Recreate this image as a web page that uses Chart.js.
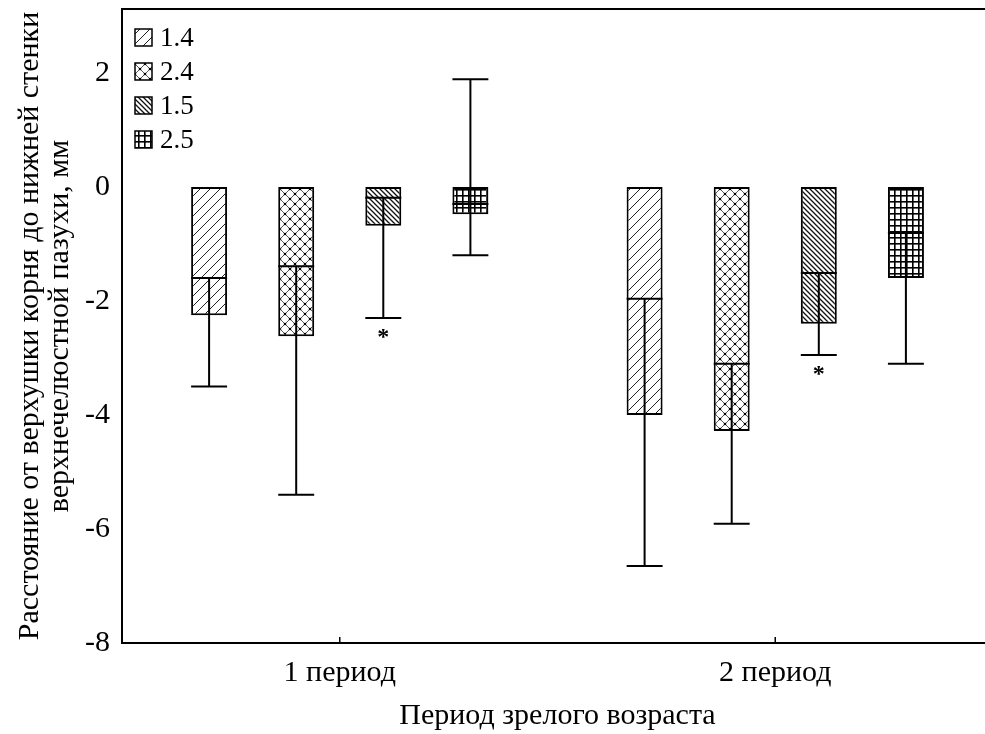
<!DOCTYPE html>
<html>
<head>
<meta charset="utf-8">
<script src="https://cdn.jsdelivr.net/npm/chart.js@4"></script>
<style>
  html, body { margin: 0; padding: 0; background: #fff; overflow: hidden; }
  #wrap { width: 1000px; height: 755px; margin-top: -21px; }
</style>
</head>
<body>
<div id="wrap"><canvas id="c" width="1000" height="755"></canvas></div>
<script>
// Age periods on the x axis
const periods = ['1 период', '2 период'];
// Tooth groups (one box per group inside each period)
const groups = ['1.4', '2.4', '1.5', '2.5'];
// Box top (upper edge) for each group, per period, mm
const boxTop = {
  '1.4': [0, 0],
  '2.4': [0, 0],
  '1.5': [0, 0],
  '2.5': [0, 0]
};
// Box bottom (lower edge) for each group, per period, mm
const boxBottom = {
  '1.4': [-2.25, -4.00],
  '2.4': [-2.62, -4.28],
  '1.5': [-0.68, -2.40],
  '2.5': [-0.48, -1.60]
};
// Median for each group, per period, mm
const medians = {
  '1.4': [-1.60, -1.96],
  '2.4': [-1.39, -3.10],
  '1.5': [-0.19, -1.51],
  '2.5': [-0.30, -0.81]
};
// Whisker minimum, per period, mm
const whiskerMin = {
  '1.4': [-3.50, -6.65],
  '2.4': [-5.40, -5.91],
  '1.5': [-2.30, -2.95],
  '2.5': [-1.20, -3.10]
};
// Whisker maximum, per period, mm (null: no upper whisker above the box)
const whiskerMax = {
  '1.4': [null, null],
  '2.4': [null, null],
  '1.5': [null, null],
  '2.5': [1.89, null]
};
// Significance marks under the whiskers
const marks = {
  '1.4': ['', ''],
  '2.4': ['', ''],
  '1.5': ['*', '*'],
  '2.5': ['', '']
};
// Y axis ticks
const yTicks = [-8, -6, -4, -2, 0, 2];

const FONT = '"Liberation Serif", "Times New Roman", serif';

// Hatch fills
function makePattern(kind) {
  const c = document.createElement('canvas');
  const ctx = c.getContext('2d');
  let s;
  if (kind === 'slash') {
    s = 10; c.width = s; c.height = s;
    ctx.fillStyle = '#fff'; ctx.fillRect(0, 0, s, s);
    ctx.strokeStyle = '#222'; ctx.lineWidth = 1;
    ctx.beginPath();
    ctx.moveTo(-1, s + 1); ctx.lineTo(s + 1, -1);
    ctx.moveTo(-1, 1); ctx.lineTo(1, -1);
    ctx.moveTo(s - 1, s + 1); ctx.lineTo(s + 1, s - 1);
    ctx.stroke();
  } else if (kind === 'cross') {
    s = 10; c.width = s; c.height = s;
    ctx.fillStyle = '#fff'; ctx.fillRect(0, 0, s, s);
    ctx.strokeStyle = '#444'; ctx.lineWidth = 0.9;
    ctx.beginPath();
    ctx.moveTo(0, 0); ctx.lineTo(s, s);
    ctx.moveTo(0, s); ctx.lineTo(s, 0);
    ctx.stroke();
    ctx.fillStyle = '#000';
    [[s / 2, s / 2], [0, 0], [s, 0], [0, s], [s, s]].forEach(p => {
      ctx.beginPath(); ctx.arc(p[0], p[1], 1.3, 0, Math.PI * 2); ctx.fill();
    });
  } else if (kind === 'backslash') {
    s = 5; c.width = s; c.height = s;
    ctx.fillStyle = '#fff'; ctx.fillRect(0, 0, s, s);
    ctx.strokeStyle = '#111'; ctx.lineWidth = 1.3;
    ctx.beginPath();
    ctx.moveTo(-1, -1); ctx.lineTo(s + 1, s + 1);
    ctx.moveTo(s - 1, -1); ctx.lineTo(s + 1, 1);
    ctx.moveTo(-1, s - 1); ctx.lineTo(1, s + 1);
    ctx.stroke();
  } else {
    s = 6; c.width = s; c.height = s;
    ctx.fillStyle = '#fff'; ctx.fillRect(0, 0, s, s);
    ctx.fillStyle = '#000';
    ctx.fillRect(0, 0, s, 1.6);
    ctx.fillRect(0, 0, 1.6, s);
  }
  return ctx.createPattern(c, 'repeat');
}
const patternKinds = { '1.4': 'slash', '2.4': 'cross', '1.5': 'backslash', '2.5': 'grid' };

const datasets = groups.map(g => ({
  label: g,
  data: periods.map((p, i) => [boxTop[g][i], boxBottom[g][i]]),
  backgroundColor: makePattern(patternKinds[g]),
  borderColor: '#000',
  borderWidth: 2,
  borderSkipped: false,
  categoryPercentage: 0.8,
  barPercentage: 0.413
}));

// Medians, whiskers, caps, marks, frame, inward x ticks and the legend
const boxExtras = {
  id: 'boxExtras',
  afterDatasetsDraw(chart) {
    const ctx = chart.ctx;
    const y = chart.scales.y;
    const area = chart.chartArea;
    ctx.save();
    ctx.strokeStyle = '#000';
    ctx.lineWidth = 2;
    ctx.lineCap = 'butt';
    groups.forEach((g, di) => {
      const meta = chart.getDatasetMeta(di);
      meta.data.forEach((bar, i) => {
        const half = bar.width / 2;
        const xc = bar.x;
        const yMed = y.getPixelForValue(medians[g][i]);
        const yMin = y.getPixelForValue(whiskerMin[g][i]);
        const topVal = whiskerMax[g][i];
        const yTopLine = topVal !== null ? y.getPixelForValue(topVal) : yMed;
        ctx.beginPath();
        // median
        ctx.moveTo(xc - half, yMed); ctx.lineTo(xc + half, yMed);
        // whisker stem
        ctx.moveTo(xc, yTopLine); ctx.lineTo(xc, yMin);
        // lower cap
        ctx.moveTo(xc - half, yMin); ctx.lineTo(xc + half, yMin);
        if (topVal !== null) {
          ctx.moveTo(xc - half, yTopLine); ctx.lineTo(xc + half, yTopLine);
        }
        ctx.stroke();
        if (marks[g][i]) {
          ctx.fillStyle = '#000';
          ctx.font = 'bold 24px ' + FONT;
          ctx.textAlign = 'center';
          ctx.textBaseline = 'top';
          ctx.fillText(marks[g][i], xc, yMin + 8);
        }
      });
    });
    // top frame line
    ctx.beginPath();
    ctx.lineWidth = 2;
    ctx.moveTo(area.left, area.top); ctx.lineTo(area.right, area.top);
    ctx.stroke();
    // inward ticks on x axis
    const x = chart.scales.x;
    ctx.lineWidth = 1.5;
    periods.forEach((p, i) => {
      const px = x.getPixelForValue(i);
      ctx.beginPath();
      ctx.moveTo(px, area.bottom); ctx.lineTo(px, area.bottom - 6);
      ctx.stroke();
    });
    // legend
    const lx = area.left + 13, ly0 = area.top + 20, step = 34, sz = 17;
    ctx.font = '27px ' + FONT;
    ctx.textAlign = 'left';
    ctx.textBaseline = 'middle';
    chart.data.datasets.forEach((ds, k) => {
      const yy = ly0 + k * step;
      ctx.fillStyle = ds.backgroundColor;
      ctx.fillRect(lx, yy, sz, sz);
      ctx.lineWidth = 1.5;
      ctx.strokeStyle = '#000';
      ctx.strokeRect(lx, yy, sz, sz);
      ctx.fillStyle = '#000';
      ctx.fillText(ds.label, lx + sz + 8, yy + sz / 2 + 1);
    });
    ctx.restore();
  }
};

new Chart(document.getElementById('c'), {
  type: 'bar',
  data: { labels: periods, datasets: datasets },
  options: {
    responsive: false,
    animation: false,
    events: [],
    layout: { padding: { top: -9, right: 7, left: 0, bottom: 0 } },
    plugins: { legend: { display: false }, tooltip: { enabled: false } },
    scales: {
      x: {
        grid: { display: false, drawTicks: false },
        border: { display: true, color: '#000', width: 2 },
        ticks: { color: '#000', font: { family: FONT, size: 30 }, padding: 12 },
        title: {
          display: true,
          text: 'Период зрелого возраста',
          color: '#000',
          font: { family: FONT, size: 30 },
          padding: { top: 0, bottom: 0 }
        },
        afterFit(scale) { scale.height = 91; }
      },
      y: {
        min: -8,
        max: 3.12,
        grid: { display: false, drawTicks: false },
        border: { display: true, color: '#000', width: 2 },
        ticks: { color: '#000', font: { family: FONT, size: 30 }, padding: 12 },
        afterBuildTicks(scale) { scale.ticks = yTicks.map(v => ({ value: v })); },
        title: {
          display: true,
          text: ['Расстояние от верхушки корня до нижней стенки', 'верхнечелюстной пазухи, мм'],
          color: '#000',
          font: { family: FONT, size: 30, lineHeight: 1.0 },
          padding: { top: 15, bottom: 0 }
        },
        afterFit(scale) { scale.width = 122; }
      }
    }
  },
  plugins: [boxExtras]
});
</script>
</body>
</html>
